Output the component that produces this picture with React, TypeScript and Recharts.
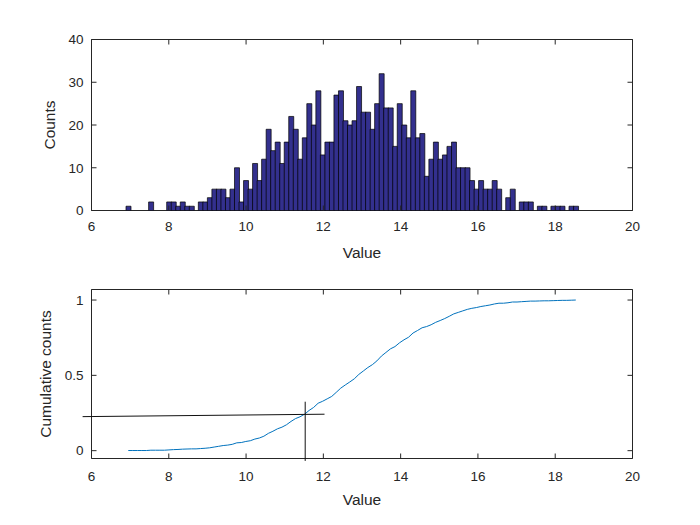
import {
  BarChart,
  Bar,
  LineChart,
  Line,
  XAxis,
  YAxis,
  ReferenceArea,
  ReferenceLine,
} from "recharts";

// histogram: 100 equal bins between binLo and binHi
const binLo = 6.893;
const binHi = 18.591;
const counts = [
  1, 0, 0, 0, 0, 2, 0, 0, 0, 2,
  2, 1, 2, 1, 1, 0, 2, 2, 3, 5,
  5, 5, 3, 5, 10, 2, 7, 5, 11, 7,
  12, 19, 14, 16, 11, 16, 22, 19, 12, 17,
  25, 20, 28, 13, 16, 16, 27, 28, 21, 20,
  21, 29, 23, 23, 19, 25, 32, 24, 24, 15,
  25, 20, 17, 28, 17, 18, 8, 12, 16, 12,
  13, 15, 16, 10, 10, 10, 7, 5, 7, 5,
  5, 7, 5, 0, 3, 5, 0, 2, 2, 2,
  0, 1, 1, 0, 1, 1, 1, 0, 1, 1,
];

const xTicks = [6, 8, 10, 12, 14, 16, 18, 20];
const countTicks = [0, 10, 20, 30, 40];
const cumTicks = [0, 0.5, 1];

// crosshair drawn over the cumulative plot
const hLine = [
  { x: 5.77, y: 0.226 },
  { x: 12.03, y: 0.242 },
];
const vLine = [
  { x: 11.53, y: 0.325 },
  { x: 11.53, y: -0.068 },
];

const FONT = '"Liberation Sans", Arial, Helvetica, sans-serif';
const AXIS = "#262626";

const binWidth = (binHi - binLo) / counts.length;
const total = counts.reduce((a, b) => a + b, 0);

const histData = counts.map((c, i) => ({
  x: binLo + binWidth * (i + 0.5),
  count: c,
}));

let running = 0;
const cumData = counts.map((c, i) => {
  running += c;
  return { x: binLo + binWidth * (i + 0.5), cum: running / total };
});

const PLOT_W = 541;

const makeXTick = (plotH: number, dy: number) => (props: any) => {
  const { x, y, payload } = props;
  return (
    <g>
      <line x1={x} y1={y} x2={x} y2={y - 5} stroke={AXIS} />
      <line x1={x} y1={y - plotH} x2={x} y2={y - plotH + 5} stroke={AXIS} />
      <text
        x={x}
        y={y + dy}
        textAnchor="middle"
        fill={AXIS}
        fontSize={13.5}
        fontFamily={FONT}
      >
        {payload.value}
      </text>
    </g>
  );
};

const YTick = (props: any) => {
  const { x, y, payload } = props;
  return (
    <g>
      <line x1={x} y1={y} x2={x + 5} y2={y} stroke={AXIS} />
      <line x1={x + PLOT_W} y1={y} x2={x + PLOT_W - 5} y2={y} stroke={AXIS} />
      <text
        x={x - 8}
        y={y + 4.8}
        textAnchor="end"
        fill={AXIS}
        fontSize={13.5}
        fontFamily={FONT}
      >
        {payload.value}
      </text>
    </g>
  );
};

const labelStyle = (cx: number, cy: number, rotate = false): any => ({
  position: "absolute",
  left: cx,
  top: cy,
  transform: `translate(-50%, -50%)${rotate ? " rotate(-90deg)" : ""}`,
  whiteSpace: "nowrap",
  fontFamily: FONT,
  fontSize: 15.5,
  lineHeight: 1,
  color: AXIS,
});

export default function App() {
  return (
    <div
      style={{
        position: "absolute",
        left: 0,
        top: 0,
        width: 700,
        height: 525,
        background: "#fff",
      }}
    >
      <div style={{ position: "absolute", left: 0, top: 0 }}>
        <BarChart
          width={700}
          height={260}
          data={histData}
          margin={{ top: 39.5, right: 67.5, left: 0, bottom: 19.5 }}
          barCategoryGap={0}
          barGap={0}
        >
          <XAxis
            dataKey="x"
            type="number"
            domain={[6, 20]}
            ticks={xTicks}
            interval={0}
            allowDataOverflow
            height={30}
            tickSize={0}
            tickMargin={0}
            tickLine={false}
            axisLine={false}
            tick={makeXTick(171, 20)}
          />
          <YAxis
            type="number"
            domain={[0, 40]}
            ticks={countTicks}
            interval={0}
            allowDataOverflow
            width={91.5}
            tickSize={0}
            tickMargin={0}
            tickLine={false}
            axisLine={false}
            tick={YTick}
          />
          <Bar
            dataKey="count"
            fill="#33308e"
            stroke="#000"
            strokeWidth={0.7}
            isAnimationActive={false}
          />
          <ReferenceArea
            x1={6}
            x2={20}
            y1={0}
            y2={40}
            fill="none"
            stroke={AXIS}
            strokeWidth={1}
            fillOpacity={0}
          />
        </BarChart>
      </div>

      <div style={{ position: "absolute", left: 0, top: 260 }}>
        <LineChart
          width={700}
          height={265}
          data={cumData}
          margin={{ top: 29.5, right: 67.5, left: 0, bottom: 36.5 }}
        >
          <XAxis
            dataKey="x"
            type="number"
            domain={[6, 20]}
            ticks={xTicks}
            interval={0}
            allowDataOverflow
            height={30}
            tickSize={0}
            tickMargin={0}
            tickLine={false}
            axisLine={false}
            tick={makeXTick(169, 22)}
          />
          <YAxis
            type="number"
            domain={[-0.052, 1.07]}
            ticks={cumTicks}
            interval={0}
            allowDataOverflow
            width={91.5}
            tickSize={0}
            tickMargin={0}
            tickLine={false}
            axisLine={false}
            tick={YTick}
          />
          <ReferenceArea
            x1={6}
            x2={20}
            y1={-0.052}
            y2={1.07}
            fill="none"
            stroke={AXIS}
            strokeWidth={1}
            fillOpacity={0}
          />
          <Line
            dataKey="cum"
            type="linear"
            stroke="#0072BD"
            strokeWidth={1}
            dot={false}
            isAnimationActive={false}
          />
          <ReferenceLine
            segment={hLine}
            stroke="#111"
            strokeWidth={1}
            ifOverflow="visible"
          />
          <ReferenceLine
            segment={vLine}
            stroke="#111"
            strokeWidth={1}
            ifOverflow="visible"
          />
        </LineChart>
      </div>

      <div style={labelStyle(50, 125, true)}>Counts</div>
      <div style={labelStyle(362, 253)}>Value</div>
      <div style={labelStyle(46, 374, true)}>Cumulative counts</div>
      <div style={labelStyle(362, 500)}>Value</div>
    </div>
  );
}
